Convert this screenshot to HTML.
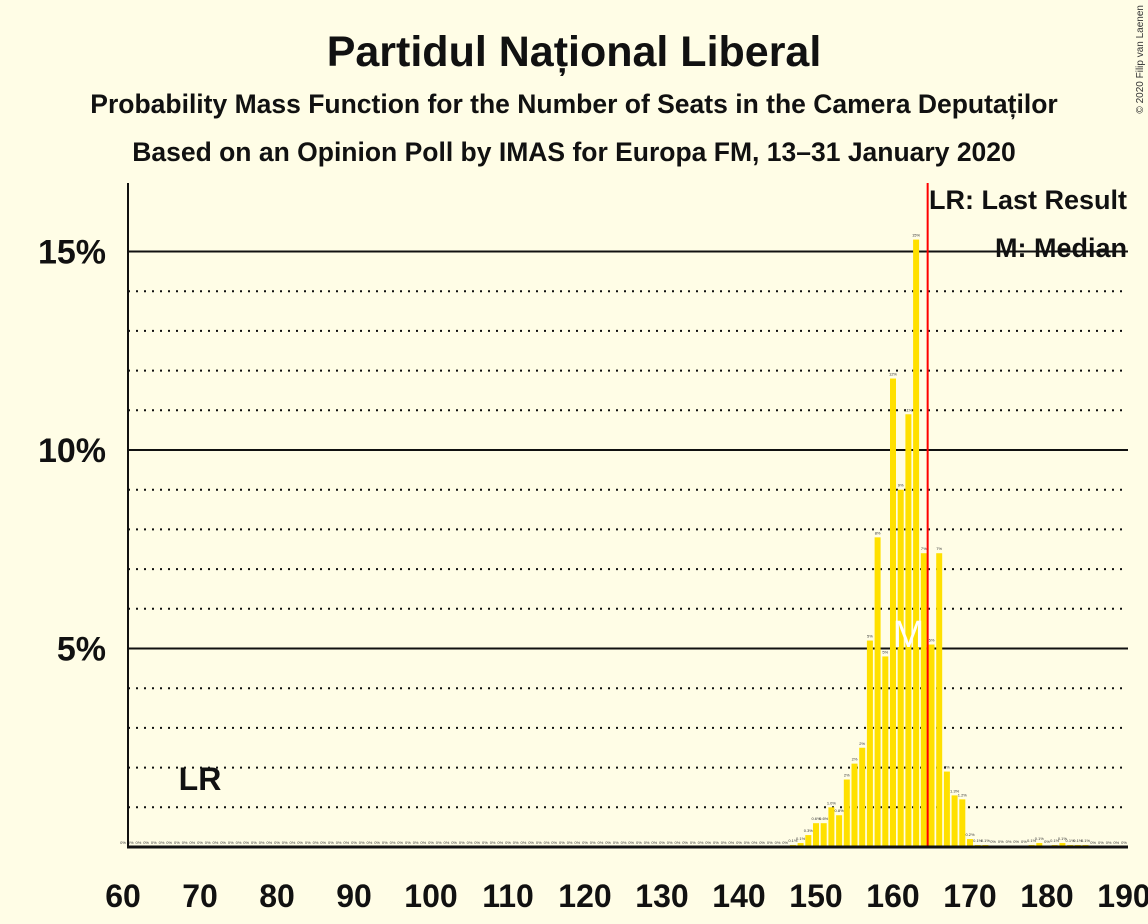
<!DOCTYPE html>
<html><head><meta charset="utf-8"><style>
body{margin:0;background:#fffde6;}
svg{display:block;font-family:"Liberation Sans",sans-serif;}
</style></head><body>
<svg id="chart" width="1148" height="924">
<rect width="1148" height="924" fill="#fffde6"/>
<text x="574" y="66" text-anchor="middle" font-size="43" font-weight="bold" fill="#111">Partidul Național Liberal</text>
<text x="574" y="113" text-anchor="middle" font-size="26.5" font-weight="bold" fill="#111">Probability Mass Function for the Number of Seats in the Camera Deputaților</text>
<text x="574" y="161" text-anchor="middle" font-size="26.5" font-weight="bold" fill="#111">Based on an Opinion Poll by IMAS for Europa FM, 13–31 January 2020</text>
<text x="1143" y="5" font-size="10" fill="#333" transform="rotate(-90 1143 5)" text-anchor="end">© 2020 Filip van Laenen</text>
<g id="grid"></g>
<g id="bars"></g>
<g id="axes"></g>
</svg>
<script>
const seats=[];for(let s=60;s<=190;s++)seats.push(s);
const probSeats=[147,148,149,150,151,152,153,154,155,156,157,158,159,160,161,162,163,164,165,166,167,168,169,170,171,172,173,174,175,176,177,178,179,180,181,182,183,184,185];
const probValues=[0.05,0.1,0.3,0.6,0.6,1.0,0.8,1.7,2.1,2.5,5.2,7.8,4.8,11.8,9.0,10.9,15.3,7.4,5.1,7.4,1.9,1.3,1.2,0.2,0.05,0.05,0.02,0.02,0.02,0.02,0.02,0.05,0.1,0.02,0.05,0.1,0.05,0.05,0.05];
const probLabels=["0.1%","0.1%","0.3%","0.6%","0.6%","1.0%","0.8%","2%","2%","2%","5%","8%","5%","12%","9%","11%","15%","7%","5%","7%","2%","1.3%","1.2%","0.2%","0.1%","0.1%","0%","0%","0%","0%","0%","0.1%","0.1%","0%","0.1%","0.1%","0.1%","0.1%","0.1%"];
const xTicks=[60,70,80,90,100,110,120,130,140,150,160,170,180,190];
const yTicks=[5,10,15];
const yMinor=[1,2,3,4,6,7,8,9,11,12,13,14];
const lastResult=70, median=162, majority=164.5;
const NS="http://www.w3.org/2000/svg";
const X=s=>123+(s-60)*7.7, Y=p=>847-p*39.7;
function mk(t,a,p){const e=document.createElementNS(NS,t);for(const k in a)e.setAttribute(k,a[k]);p.appendChild(e);return e;}
const g=document.getElementById('grid'),b=document.getElementById('bars'),ax=document.getElementById('axes');
yMinor.forEach(v=>{const l=mk('line',{x1:128,x2:1128,y1:Y(v),y2:Y(v),stroke:'#111','stroke-width':2,'stroke-dasharray':'2 6'},g);

});
yTicks.forEach(v=>{const l=mk('line',{x1:128,x2:1128,y1:Y(v),y2:Y(v),stroke:'#111','stroke-width':2},g);


const t=mk('text',{x:106,y:Y(v)+12,'text-anchor':'end','font-size':34,'font-weight':'bold',fill:'#111'},ax);t.textContent=v+'%';

});
seats.forEach(s=>{const i=probSeats.indexOf(s);const v=i<0?0:probValues[i];const lab=i<0?'0%':probLabels[i];
if(v>0){const r=mk('rect',{x:X(s)-3,y:Y(v),width:6,height:847-Y(v),fill:'#ffe000'},b);

}
const t=mk('text',{x:X(s),y:Y(v)-3,'text-anchor':'middle','font-size':4,fill:'#333'},b);t.textContent=lab;

});
const m=mk('text',{x:X(median),y:647,'text-anchor':'middle','font-size':38,fill:'#fff'},b);m.textContent='M';


const rl=mk('line',{x1:X(majority),x2:X(majority),y1:183,y2:847,stroke:'#f00','stroke-width':2},ax);


const lr=mk('text',{x:X(lastResult),y:790,'text-anchor':'middle','font-size':32,'font-weight':'bold',fill:'#111'},ax);lr.textContent='LR';


const ya=mk('line',{x1:128,x2:128,y1:183,y2:848,stroke:'#111','stroke-width':2},ax);


const xa=mk('line',{x1:127,x2:1128,y1:847,y2:847,stroke:'#111','stroke-width':3},ax);


xTicks.forEach(s=>{const t=mk('text',{x:X(s),y:907,'text-anchor':'middle','font-size':32,'font-weight':'bold',fill:'#111'},ax);t.textContent=s;

});
const l1=mk('text',{x:1127,y:209,'text-anchor':'end','font-size':27,'font-weight':'bold',fill:'#111'},ax);l1.textContent='LR: Last Result';


const l2=mk('text',{x:1127,y:257,'text-anchor':'end','font-size':27,'font-weight':'bold',fill:'#111'},ax);l2.textContent='M: Median';


</script>
</body></html>
